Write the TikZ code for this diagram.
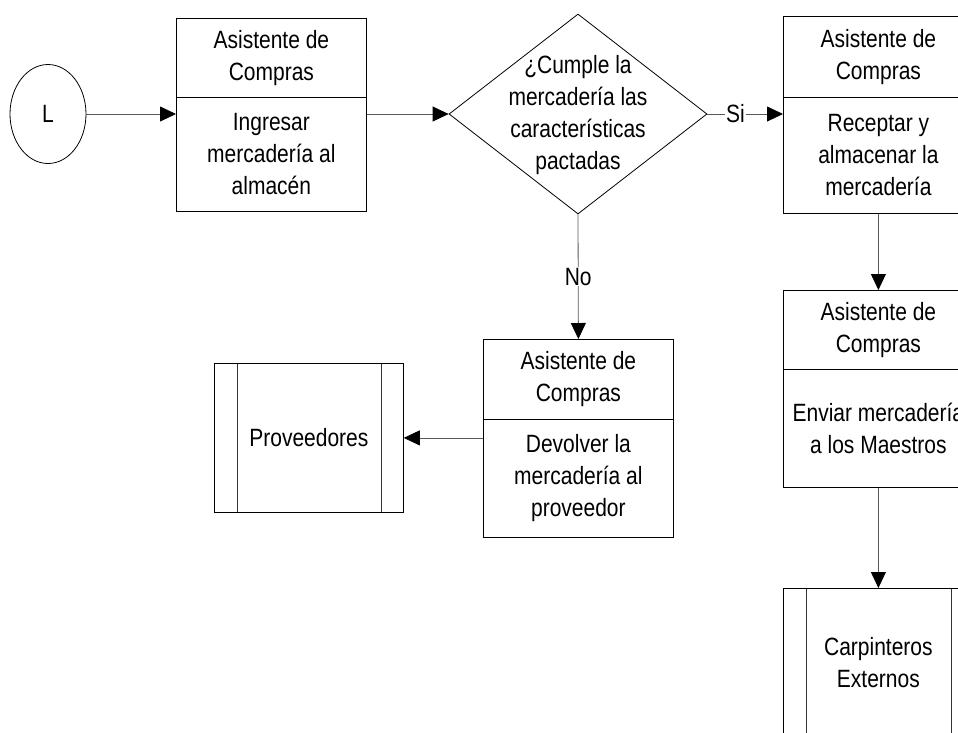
\documentclass[tikz,border=0pt]{standalone}
\usepackage{fontspec}
\setmainfont{Liberation Sans}[FakeStretch=0.84]
\usetikzlibrary{shapes.geometric,arrows.meta}
\begin{document}
\begin{tikzpicture}[x=1pt,y=-1pt,
  txt/.style={font=\fontsize{25}{32}\selectfont, align=center, inner sep=0pt},
  cell/.style={txt, draw=black, line width=0.8pt, anchor=north west, minimum width=190pt},
  ext/.style={cell, minimum height=149pt,
    path picture={\draw[line width=0.8pt, draw=black!80]
      ([xshift=23pt]path picture bounding box.north west) -- ([xshift=23pt]path picture bounding box.south west)
      ([xshift=-22pt]path picture bounding box.north east) -- ([xshift=-22pt]path picture bounding box.south east);}},
  conn/.style={draw=black!65, line width=0.8pt, -{Triangle[length=16pt,width=15pt,color=black]}},
  edgelbl/.style={txt, fill=white, inner sep=1pt}
]
\useasboundingbox (0,0) rectangle (958,732);
\clip (0,0) rectangle (958,732);

% start connector
\node[txt, draw=black, line width=0.8pt, ellipse, minimum width=76pt, minimum height=99pt] (L) at (48,114) {L};

% box 1
\node[cell, minimum height=79pt] (b1h) at (176,18) {Asistente de\\Compras};
\node[cell, minimum height=114pt] (b1b) at (176,97) {Ingresar\\mercadería al\\almacén};

% decision
\node[draw=black, line width=0.8pt, diamond, minimum width=258pt, minimum height=200pt, inner sep=0pt] (d) at (578,114) {};
\node[txt, line width=0pt] (dt) at (578,115) {¿Cumple la\\mercadería las\\características\\pactadas};

% box 3
\node[cell, minimum height=81pt] (b3h) at (783,16) {Asistente de\\Compras};
\node[cell, minimum height=116pt] (b3b) at (783,97) {Receptar y\\almacenar la\\mercadería};

% box 4
\node[cell, minimum height=79pt] (b4h) at (783,290) {Asistente de\\Compras};
\node[cell, minimum height=118pt] (b4b) at (783,369) {Enviar mercadería\\a los Maestros};

% devolver
\node[cell, minimum height=80pt] (dvh) at (483,339) {Asistente de\\Compras};
\node[cell, minimum height=118pt] (dvb) at (483,419) {Devolver la\\mercadería al\\proveedor};

% external entities
\node[ext, minimum width=189pt] (prov) at (214,363) {Proveedores};
\node[ext] (carp) at (783,588) {Carpinteros\\Externos};

% connectors
\draw[conn] (L.east) -- (L.east -| b1b.west);
\draw[conn] (d.west -| b1b.east) -- (d.west);
\draw[conn] (d.east) -- node[edgelbl, pos=0.37] {Si} (d.east -| b3b.west);
\draw[conn] (b3b.south) -- (b4h.north);
\draw[conn] (b4b.south) -- (carp.north);
\draw[conn] (d.south) -- node[edgelbl, pos=0.5] {No} (dvh.north);
\draw[conn] (prov.east -| dvb.west) -- (prov.east);
\end{tikzpicture}
\end{document}
